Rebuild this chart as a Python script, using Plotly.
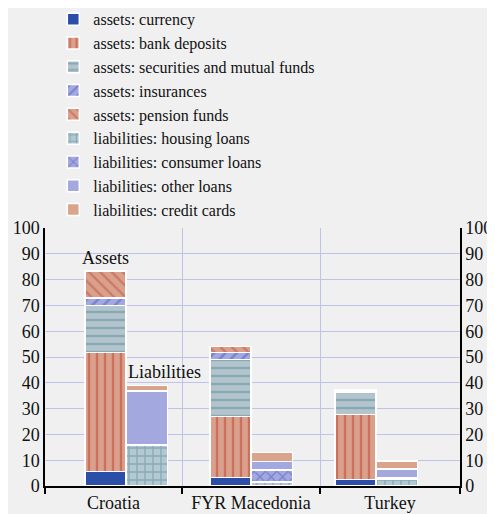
import plotly.graph_objects as go

countries = ["Croatia", "FYR Macedonia", "Turkey"]

asset_names = [
    "assets: currency",
    "assets: bank deposits",
    "assets: securities and mutual funds",
    "assets: insurances",
    "assets: pension funds",
]
asset_values = [
    [5.6, 3.3, 2.5],     # currency
    [46.2, 23.6, 25.2],  # bank deposits
    [18.1, 22.2, 8.8],   # securities and mutual funds
    [3.0, 2.6, 0.3],     # insurances
    [10.4, 2.4, 0.6],    # pension funds
]

liab_names = [
    "liabilities: housing loans",
    "liabilities: consumer loans",
    "liabilities: other loans",
    "liabilities: credit cards",
]
liab_values = [
    [15.8, 1.5, 2.5],   # housing loans
    [0.0, 4.7, 0.6],    # consumer loans
    [21.1, 3.3, 3.5],   # other loans
    [2.0, 3.4, 3.1],    # credit cards
]

y_ticks = list(range(0, 101, 10))

# styles: (bgcolor, fgcolor, pattern shape)
asset_styles = [
    ("#2b4ea8", "#2b4ea8", ""),
    ("#d9a18c", "#c0402e", "|"),
    ("#b3c4cc", "#5a8d9c", "-"),
    ("#a3a8de", "#4a5ac4", "/"),
    ("#d9a18c", "#c0503e", "\\"),
]
liab_styles = [
    ("#b3c8d0", "#5a8d9c", "+"),
    ("#a3a8de", "#4a5ac4", "x"),
    ("#a3a8de", "#a3a8de", ""),
    ("#d9a48c", "#d9a48c", ""),
]

bar_w = 0.33
centers = list(range(len(countries)))
x_assets = [c - bar_w / 2 for c in centers]
x_liabs = [c + bar_w / 2 for c in centers]

fig = go.Figure()


def add_bar(name, xs, ys, style):
    bg, fg, shape = style
    fig.add_trace(go.Bar(
        name=name, x=xs, y=ys, width=bar_w,
        marker=dict(
            color=bg,
            line=dict(color="white", width=1.5),
            pattern=dict(shape=shape, fgcolor=fg, bgcolor=bg, size=8, solidity=0.3),
        ),
        hoverinfo="skip",
    ))


for name, vals, st in zip(asset_names, asset_values, asset_styles):
    add_bar(name, x_assets, vals, st)
for name, vals, st in zip(liab_names, liab_values, liab_styles):
    add_bar(name, x_liabs, vals, st)

# invisible trace so the right-hand axis is drawn
fig.add_trace(go.Scatter(x=[centers[0]], y=[0], yaxis="y2", mode="markers",
                         marker=dict(opacity=0), showlegend=False, hoverinfo="skip"))

edges = [-0.648, 0.448, 1.552, 2.672]
label_pos = [(edges[i] + edges[i + 1]) / 2 for i in range(3)]

font = dict(family="Liberation Serif, Times New Roman, serif", size=18, color="#111")
grid = "#bfc3ec"

fig.add_annotation(x=x_assets[0], y=88.5, text="Assets", showarrow=False,
                   font=font, xanchor="center", yanchor="middle")
fig.add_annotation(x=0.31, y=44.2, text="Liabilities", showarrow=False,
                   font=font, xanchor="center", yanchor="middle")

# page body has an 8px margin, so the figure is shrunk by that much
fig.update_layout(
    width=487, height=506,
    barmode="stack",
    paper_bgcolor="#f0f0f0", plot_bgcolor="#f0f0f0",
    font=font,
    margin=dict(l=37, r=35, t=220, b=28, autoexpand=False),
    showlegend=True,
    legend=dict(x=0.02, y=1.875, xanchor="left", yanchor="top",
                bgcolor="rgba(0,0,0,0)", font=dict(font, size=16),
                traceorder="normal", itemwidth=30),
    xaxis=dict(
        range=[edges[0], edges[-1]],
        tickmode="array", tickvals=label_pos, ticktext=countries,
        ticks="", showgrid=False, zeroline=False,
        showline=True, linecolor="black", linewidth=1.5,
        automargin=False,
        minor=dict(tickmode="array", tickvals=edges, ticks="outside",
                   ticklen=6, tickcolor="black", tickwidth=1.5,
                   showgrid=True, gridcolor=grid, gridwidth=1),
    ),
    yaxis=dict(
        range=[0, 100], tickmode="array", tickvals=y_ticks,
        showgrid=True, gridcolor=grid, gridwidth=1, zeroline=False,
        showline=True, linecolor="black", linewidth=1.5,
        ticks="", automargin=False,
    ),
    yaxis2=dict(
        range=[0, 100], tickmode="array", tickvals=y_ticks,
        overlaying="y", side="right", showgrid=False, zeroline=False,
        showline=True, linecolor="black", linewidth=1.5,
        ticks="", automargin=False,
    ),
)

fig.write_html("out.html")
